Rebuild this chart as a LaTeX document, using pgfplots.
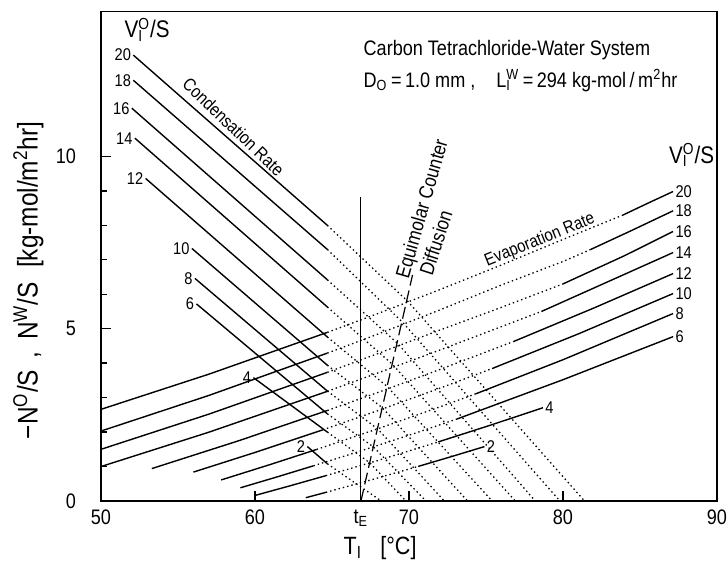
\documentclass[border=0pt]{standalone}
\usepackage{fontspec}
\setmainfont{Liberation Sans}[FakeStretch=0.86]
\usepackage{pgfplots}
\pgfplotsset{compat=1.18}
% superscript over subscript, stacked
\newcommand{\supsub}[2]{\begingroup\setbox0\hbox{\textsuperscript{#1}}\setbox2\hbox{\textsubscript{#2}}%
  \ifdim\wd0>\wd2 \rlap{\box2}\box0\else\rlap{\box0}\box2\fi\endgroup}
\pgfplotsset{
  sol/.style={black, line width=0.7pt, no markers},
  dot/.style={black, line width=0.65pt, dash pattern=on 0.7pt off 1.5pt, no markers},
}
\tikzset{lab/.style={font=\fontsize{8.5}{10}\selectfont, inner sep=1pt}}
\begin{document}
\begin{tikzpicture}
\useasboundingbox (-50.5pt,-30.5pt) rectangle (313.5pt,250.5pt);
\begin{axis}[
  scale only axis, width=308pt, height=244.65pt,
  xmin=50, xmax=90, ymin=0, ymax=14.2,
  clip=false,
  axis line style={line width=0.8pt},
  tick align=inside, tick pos=left,
  xtick={50,60,70,80,90},
  extra x ticks={66.88}, extra x tick labels={t\textsubscript{E}},
  extra x tick style={major tick length=0pt},
  ytick={0,5,10}, minor y tick num=4,
  major tick length=5pt, minor tick length=3pt,
  every tick/.style={black, line width=0.7pt},
  /pgf/number format/assume math mode=true,
  tick label style={font=\fontsize{10.5}{12}\selectfont},
  yticklabel shift=9pt,
  xticklabel shift=1pt,
  xlabel={T\textsubscript{I}\enspace\ [°C]},
  ylabel={−N\textsuperscript{O}/S\, ,\, N\textsuperscript{W}/S\enspace[kg-mol/m\textsuperscript{2}hr]},
  xlabel style={font=\fontsize{12.5}{14}\selectfont, at={(axis description cs:0.453,-0.096)}, anchor=center},
  ylabel style={font=\fontsize{14.2}{16}\selectfont, at={(axis description cs:-0.118,0.451)}, anchor=center},
]
% evaporation rate (rising) lines, V/S = 20 ... 2
\addplot[sol] coordinates {(50,2.660)(57,3.680)(64.7,4.894)};
\addplot[dot] coordinates {(64.7,4.894)(68,5.443)(72,6.133)(76,6.849)(80,7.591)(83.9,8.300)};
\addplot[sol] coordinates {(83.9,8.300)(85.5,8.640)(87.15,8.982)};

\addplot[sol] coordinates {(50,2.030)(57,3.063)(64.7,4.292)};
\addplot[dot] coordinates {(64.7,4.292)(68,4.847)(72,5.544)(76,6.268)(80,6.950)(81.8,7.300)};
\addplot[sol] coordinates {(81.8,7.300)(84.5,7.860)(87.15,8.422)};

\addplot[sol] coordinates {(50,1.500)(57,2.520)(64.7,3.734)};
\addplot[dot] coordinates {(64.7,3.734)(68,4.283)(72,4.960)(76,5.620)(80,6.300)};
\addplot[sol] coordinates {(80,6.300)(84,7.120)(87.15,7.822)};

\addplot[sol] coordinates {(50,1.000)(57,1.996)(64.7,3.183)};
\addplot[dot] coordinates {(64.7,3.183)(68,3.720)(72,4.380)(76,5.060)(78.6,5.500)};
\addplot[sol] coordinates {(78.6,5.500)(83,6.380)(87.15,7.210)};

\addplot[sol] coordinates {(53.3,0.941)(59,1.757)(64.7,2.627)};
\addplot[dot] coordinates {(64.7,2.627)(68,3.153)(72,3.816)(76.8,4.630)};
\addplot[sol] coordinates {(76.8,4.630)(82,5.600)(87.15,6.600)};

\addplot[sol] coordinates {(56,0.839)(60,1.409)(64.4,2.065)};
\addplot[dot] coordinates {(64.4,2.065)(68,2.626)(72,3.273)(75.4,3.844)};
\addplot[sol] coordinates {(75.4,3.844)(81,4.850)(87.15,6.020)};

\addplot[sol] coordinates {(57.8,0.611)(61,1.060)(64,1.496)};
\addplot[dot] coordinates {(64,1.496)(68,2.100)(72,2.730)(74.3,3.104)};
\addplot[sol] coordinates {(74.3,3.104)(80,4.100)(87.15,5.440)};

\addplot[sol] coordinates {(59.05,0.383)(61.5,0.708)(63.8,1.022)};
\addplot[dot] coordinates {(63.8,1.022)(66,1.330)(68,1.616)(70.5,1.984)(73.1,2.377)};
\addplot[sol] coordinates {(73.1,2.377)(80,3.520)(87.15,4.770)};

\addplot[sol] coordinates {(60,0.161)(62.3,0.444)(64.6,0.735)};
\addplot[dot] coordinates {(64.6,0.735)(68,1.178)(71.9,1.715)};
\addplot[sol] coordinates {(71.9,1.715)(75.3,2.202)(78.7,2.707)};

\addplot[sol] coordinates {(63.3,0.096)(64.6,0.251)};
\addplot[dot] coordinates {(64.6,0.251)(67.6,0.621)(70.6,1.004)};
\addplot[sol] coordinates {(70.6,1.004)(72.75,1.288)(74.9,1.579)};

% condensation rate (falling) lines, V/S = 20 ... 2
\addplot[sol] coordinates {(52.1,12.94)(64.7,8.00)};
\addplot[dot] coordinates {(64.7,8.00)(69.95,5.78)(81.4,0)};
\addplot[sol] coordinates {(52.1,12.21)(64.7,7.30)};
\addplot[dot] coordinates {(64.7,7.30)(69.6,5.18)(79.8,0)};
\addplot[sol] coordinates {(52.0,11.40)(64.7,6.42)};
\addplot[dot] coordinates {(64.7,6.42)(69.27,4.57)(78.2,0)};
\addplot[sol] coordinates {(52.2,10.53)(64.7,5.63)};
\addplot[dot] coordinates {(64.7,5.63)(68.94,3.96)(76.9,0)};
\addplot[sol] coordinates {(52.9,9.36)(64.7,4.76)};
\addplot[dot] coordinates {(64.7,4.76)(68.59,3.32)(75.4,0)};
\addplot[sol] coordinates {(55.9,7.33)(64.7,3.94)};
\addplot[dot] coordinates {(64.7,3.94)(68.26,2.71)(73.8,0)};
\addplot[sol] coordinates {(56.1,6.46)(64.7,3.19)};
\addplot[dot] coordinates {(64.7,3.19)(67.97,2.09)(72.3,0)};
\addplot[sol] coordinates {(56.2,5.72)(64.7,2.53)};
\addplot[dot] coordinates {(64.7,2.53)(67.69,1.57)(71.1,0)};
\addplot[sol] coordinates {(59.9,3.58)(64.7,2.00)};
\addplot[dot] coordinates {(64.7,2.00)(67.45,1.11)(69.8,0)};
\addplot[sol] coordinates {(63.4,1.58)(64.7,1.08)};
\addplot[dot] coordinates {(64.7,1.08)(68.2,0)};

% t_E and equimolar counter diffusion
\addplot[black, line width=0.5pt, no markers] coordinates {(66.88,0)(66.88,8.83)};
\addplot[black, line width=0.6pt, dash pattern=on 6pt off 2.5pt, no markers] coordinates {(66.88,0)(70.23,6.56)};

% line labels
\node[lab, anchor=east] at (axis cs:52.1,12.94) {20};
\node[lab, anchor=east] at (axis cs:52.1,12.21) {18};
\node[lab, anchor=east] at (axis cs:52.0,11.40) {16};
\node[lab, anchor=east] at (axis cs:52.2,10.53) {14};
\node[lab, anchor=east] at (axis cs:52.9,9.36) {12};
\node[lab, anchor=east] at (axis cs:55.9,7.33) {10};
\node[lab, anchor=east] at (axis cs:56.1,6.46) {8};
\node[lab, anchor=east] at (axis cs:56.2,5.72) {6};
\node[lab, anchor=east] at (axis cs:59.9,3.58) {4};
\node[lab, anchor=east] at (axis cs:63.4,1.58) {2};
\node[lab, anchor=west] at (axis cs:87.15,8.982) {20};
\node[lab, anchor=west] at (axis cs:87.15,8.422) {18};
\node[lab, anchor=west] at (axis cs:87.15,7.822) {16};
\node[lab, anchor=west] at (axis cs:87.15,7.210) {14};
\node[lab, anchor=west] at (axis cs:87.15,6.600) {12};
\node[lab, anchor=west] at (axis cs:87.15,6.020) {10};
\node[lab, anchor=west] at (axis cs:87.15,5.440) {8};
\node[lab, anchor=west] at (axis cs:87.15,4.770) {6};
\node[lab, anchor=west] at (axis cs:78.7,2.707) {4};
\node[lab, anchor=west] at (axis cs:74.9,1.579) {2};

\node[font=\fontsize{12}{14}\selectfont] at (axis cs:53.0,13.68) {V\supsub{O}{I}/S};
\node[font=\fontsize{12}{14}\selectfont] at (axis cs:88.35,10.04) {V\supsub{O}{I}/S};

\node[font=\fontsize{9}{10}\selectfont, rotate=-44] at (axis cs:58.61,10.86) {Condensation Rate};
\node[font=\fontsize{8.8}{10}\selectfont, rotate=22] at (axis cs:78.5,7.57) {Evaporation Rate};
\node[font=\fontsize{10}{11}\selectfont, rotate=74] at (axis cs:70.93,8.47) {Equimolar Counter};
\node[font=\fontsize{10}{11}\selectfont, rotate=72] at (axis cs:71.74,7.50) {Diffusion};

\node[font=\fontsize{10.5}{12}\selectfont, anchor=west] at (axis cs:66.6,13.09) {Carbon Tetrachloride-Water System};
\node[font=\fontsize{10.5}{12}\selectfont, anchor=west] at (axis cs:66.6,12.2) {D\textsubscript{O}\,=\,1.0 mm ,\quad L\supsub{W}{I}\,=\,294 kg-mol\,/\,m\textsuperscript{2}hr};
\end{axis}
\end{tikzpicture}
\end{document}
